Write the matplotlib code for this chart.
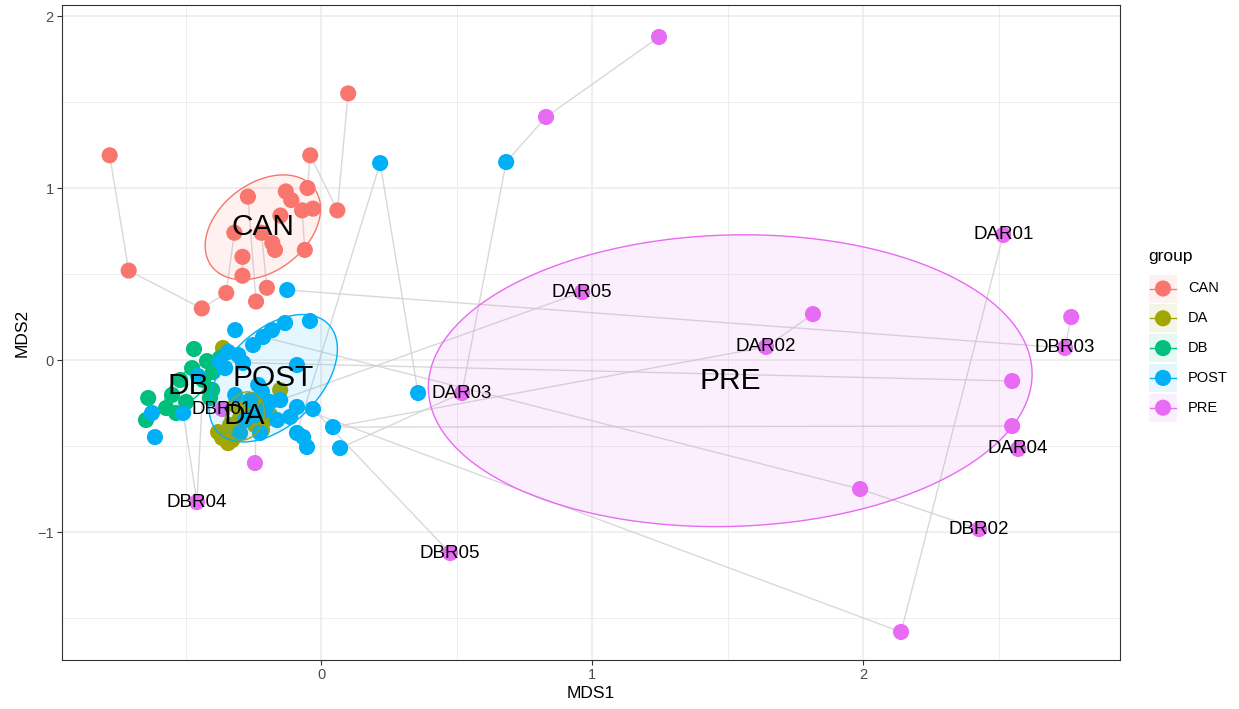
import numpy as np
import matplotlib
matplotlib.use('Agg')
import matplotlib.pyplot as plt
from matplotlib.patches import Polygon, Rectangle

plt.rcParams['font.family'] = ['Liberation Sans', 'DejaVu Sans']

# ---------------- data ----------------
groups = ['CAN', 'DA', 'DB', 'POST', 'PRE']
colors = {'CAN': '#F8766D', 'DA': '#A3A500', 'DB': '#00BF7D',
          'POST': '#00B0F6', 'PRE': '#E76BF3'}

can_id = ['c1', 'c2', 'c3', 'c4', 'c5', 'c6', 'c7', 'c8', 'c9', 'c10', 'c11', 'c12',
          'c13', 'c14', 'c15', 'c16', 'c17', 'c18', 'c19', 'c20', 'c21', 'c22', 'c23']
can_x = [-0.78, 0.10, -0.04, 0.06, -0.71, -0.44, -0.35, -0.24, -0.20, -0.29, -0.29, -0.32,
         -0.27, -0.13, -0.11, -0.05, -0.07, -0.03, -0.15, -0.22, -0.18, -0.17, -0.06]
can_y = [1.19, 1.55, 1.19, 0.87, 0.52, 0.30, 0.39, 0.34, 0.42, 0.49, 0.60, 0.74,
         0.95, 0.98, 0.93, 1.00, 0.87, 0.88, 0.84, 0.74, 0.68, 0.64, 0.64]

da_id = ['a1', 'a2', 'a3', 'a4', 'a5', 'a6', 'a7', 'a8', 'a9', 'a10', 'a11', 'a12', 'a13', 'a14', 'a15']
da_x = [-0.362, -0.380, -0.343, -0.328, -0.365, -0.336, -0.299, -0.262, -0.225, -0.151,
        -0.188, -0.317, -0.218, -0.244, -0.207]
da_y = [0.070, -0.419, -0.483, -0.465, -0.453, -0.378, -0.337, -0.291, -0.233, -0.174,
        -0.320, -0.262, -0.407, -0.378, -0.349]

db_id = ['b1', 'b2', 'b3', 'b4', 'b5', 'b6', 'b7', 'b8', 'b9', 'b10', 'b11', 'b12', 'b13', 'b14', 'b15']
db_x = [-0.469, -0.421, -0.476, -0.520, -0.550, -0.638, -0.646, -0.572, -0.535, -0.498,
        -0.435, -0.399, -0.373, -0.402, -0.410]
db_y = [0.064, -0.006, -0.047, -0.116, -0.203, -0.221, -0.349, -0.279, -0.308, -0.244,
        -0.116, -0.070, 0.012, -0.174, -0.221]

post_id = ['t%d' % i for i in range(1, 41)]
post_x = [0.218, 0.683, -0.125, -0.041, -0.133, -0.181, -0.214, -0.317, -0.251, -0.343,
          -0.306, -0.373, -0.288, -0.354, -0.089, -0.454, -0.317, -0.188, -0.151, -0.089,
          -0.030, -0.114, -0.162, 0.044, -0.225, -0.299, -0.089, -0.066, -0.052, 0.070,
          0.358, -0.509, -0.624, -0.613, -0.244, -0.207, -0.262, -0.218, -0.280, -0.232]
post_y = [1.145, 1.151, 0.407, 0.227, 0.215, 0.174, 0.134, 0.174, 0.087, 0.047,
          0.029, -0.012, -0.017, -0.047, -0.029, -0.093, -0.203, -0.244, -0.233, -0.273,
          -0.285, -0.331, -0.349, -0.390, -0.424, -0.424, -0.424, -0.448, -0.506, -0.512,
          -0.192, -0.308, -0.308, -0.448, -0.320, -0.291, -0.233, -0.186, -0.349, -0.145]

pre_id = ['r%d' % i for i in range(1, 20)]
pre_x = [1.247, 0.830, 2.517, 0.963, 1.815, 1.642, 2.745, 2.768, 2.550, 0.520,
         2.550, 2.572, -0.365, -0.244, -0.458, 0.476, 1.989, 2.428, 2.140]
pre_y = [1.878, 1.413, 0.727, 0.395, 0.267, 0.076, 0.070, 0.250, -0.122, -0.192,
         -0.384, -0.517, -0.285, -0.599, -0.826, -1.122, -0.750, -0.983, -1.581]
pre_label = ['', '', 'DAR01', 'DAR05', '', 'DAR02', 'DBR03', '', '', 'DAR03',
             '', 'DAR04', 'DBR01', '', 'DBR04', 'DBR05', '', 'DBR02', '']

links = [('c1', 'c5'), ('c5', 'c6'), ('c6', 'c7'), ('c7', 'c12'), ('c2', 'c4'), ('c4', 'c3'),
         ('c3', 'c16'), ('c13', 'c8'), ('c20', 'c9'), ('c17', 'c23'), ('c11', 'c10'),
         ('r1', 'r2'), ('r2', 't2'), ('t2', 'r10'), ('r10', 't30'),
         ('t31', 't1'), ('t1', 't27'),
         ('r8', 'r7'), ('r7', 't3'),
         ('r9', 't12'),
         ('r11', 't24'), ('t24', 'r6'), ('r6', 'r5'),
         ('r3', 'r19'), ('r19', 't20'),
         ('r18', 'r17'), ('r17', 't7'),
         ('t21', 'r16'), ('r4', 't19'),
         ('r15', 't32'), ('r15', 'b11'), ('r14', 'a14')]

# ---------------- assemble ----------------
data = {
    'CAN': (can_id, can_x, can_y),
    'DA': (da_id, da_x, da_y),
    'DB': (db_id, db_x, db_y),
    'POST': (post_id, post_x, post_y),
    'PRE': (pre_id, pre_x, pre_y),
}
pos = {}
for g, (ids, xs, ys) in data.items():
    for i, x, y in zip(ids, xs, ys):
        pos[i] = (x, y)

W, H = 1239, 709
fig = plt.figure(figsize=(W / 100, H / 100), dpi=100)
ax = fig.add_axes([62 / W, 1 - 660 / H, (1120 - 62) / W, (660 - 5) / H])
ax.set_facecolor('white')

ax.set_xlim(-0.956, 2.948)
ax.set_ylim(-1.744, 2.064)

# grid
for v in [-0.5, 0.5, 1.5, 2.5]:
    ax.axvline(v, color='#EBEBEB', lw=0.6, zorder=0)
for v in [-1.5, -0.5, 0.5, 1.5]:
    ax.axhline(v, color='#EBEBEB', lw=0.6, zorder=0)
for v in [0, 1, 2]:
    ax.axvline(v, color='#EBEBEB', lw=1.15, zorder=0)
for v in [-1, 0, 1, 2]:
    ax.axhline(v, color='#EBEBEB', lw=1.15, zorder=0)

# links
for a, b in links:
    (x0, y0), (x1, y1) = pos[a], pos[b]
    ax.plot([x0, x1], [y0, y1], color='#CFCFCF', lw=1.0, alpha=0.8, zorder=1,
            solid_capstyle='butt')

# points
for g in groups:
    ids, xs, ys = data[g]
    ax.scatter(xs, ys, s=135, color=colors[g], edgecolors='none', zorder=2)

# ellipses (1 SD covariance ellipse) and group labels at centroids
t = np.linspace(0, 2 * np.pi, 200)
for g in groups:
    ids, xs, ys = data[g]
    P = np.column_stack([xs, ys])
    mu = P.mean(axis=0)
    C = np.cov(P.T)
    vals, vecs = np.linalg.eigh(C)
    circ = np.column_stack([np.cos(t), np.sin(t)])
    E = mu + circ @ (vecs * np.sqrt(vals)).T
    ax.add_patch(Polygon(E, closed=True, facecolor=colors[g], alpha=0.1,
                         edgecolor='none', zorder=3))
    ax.add_patch(Polygon(E, closed=True, facecolor='none', edgecolor=colors[g],
                         lw=1.0, zorder=3))
    ax.text(mu[0], mu[1], g, fontsize=21.5, ha='center', va='center', zorder=5)

# sample labels
for x, y, lab in zip(pre_x, pre_y, pre_label):
    if lab:
        ax.text(x, y, lab, fontsize=13.5, ha='center', va='center', zorder=5)

# axes styling
ax.set_xticks([0, 1, 2])
ax.set_yticks([-1, 0, 1, 2])
ax.set_xticklabels(['0', '1', '2'])
ax.set_yticklabels(['\u22121', '0', '1', '2'])
ax.tick_params(axis='both', length=3.5, width=0.8, color='#333333',
               labelcolor='#4D4D4D', labelsize=10.5, pad=2.5)
for sp in ax.spines.values():
    sp.set_color('#333333')
    sp.set_linewidth(0.8)
ax.set_xlabel('MDS1', fontsize=12.5, labelpad=3)
ax.set_ylabel('MDS2', fontsize=12.5, labelpad=5)

# legend (drawn in a pixel-coordinate overlay)
lax = fig.add_axes([0, 0, 1, 1], zorder=10)
lax.set_xlim(0, W)
lax.set_ylim(H, 0)
lax.axis('off')
lax.patch.set_alpha(0)
lax.text(1148, 257, 'group', fontsize=12.5, ha='left', va='center')
key_x0, key_w, key_h = 1149, 28, 28
row0, row_step = 288.5, 29.8
for k, g in enumerate(groups):
    cy = row0 + k * row_step
    lax.add_patch(Rectangle((key_x0, cy - key_h / 2), key_w, key_h,
                            facecolor=colors[g], alpha=0.1, edgecolor='none'))
    lax.plot([key_x0 + 1, key_x0 + key_w - 1], [cy, cy], color=colors[g], lw=1.0)
    lax.scatter([key_x0 + key_w / 2], [cy], s=135, color=colors[g], edgecolors='none')
    lax.text(1188, cy, g, fontsize=10.5, ha='left', va='center')

fig.savefig('out.png', dpi=100, facecolor='white')
